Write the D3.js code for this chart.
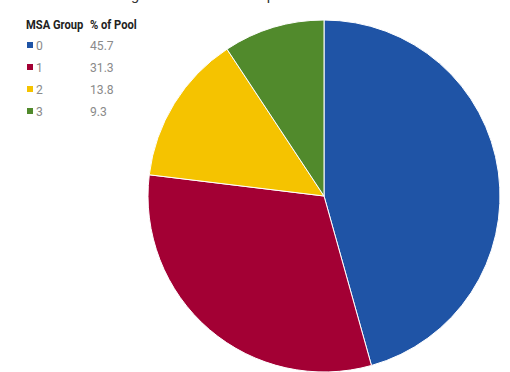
<!DOCTYPE html>
<html><head><meta charset="utf-8">
<script src="https://cdn.jsdelivr.net/npm/d3@7"></script>
<style>
html,body{margin:0;padding:0;background:#fff;}
svg{display:block;}
text{font-family:Roboto,"Liberation Sans",sans-serif;}
</style></head>
<body>
<svg id="c" width="510" height="372"></svg>
<script>
const groups = ["0","1","2","3"];
const values = [45.7, 31.3, 13.8, 9.3];
const valueLabels = ["45.7","31.3","13.8","9.3"];
const colors = ["#1f54a6","#a30034","#f5c300","#518a2c"];
const headers = ["MSA Group","% of Pool"];
const title = "Loan Percentage in Each MSA Group";

const svg = d3.select("#c");
const cx = 324, cy = 196, r = 176;

// title, mostly above the top edge as in the reference
const t = svg.append("text").attr("x", 0).attr("y", -0.5)
  .attr("font-size", 14).attr("fill","#333").text(title);
(function placeTitle(){
  const node = t.node();
  const gi = title.indexOf("g"), pi = title.lastIndexOf("p");
  let gx = node.getStartPositionOfChar(gi).x, px = node.getStartPositionOfChar(pi).x;
  const fs = 14 * 136 / (px - gx);
  t.attr("font-size", fs);
  gx = node.getStartPositionOfChar(gi).x;
  t.attr("x", 131 - gx);
})();

const pie = d3.pie().sort(null).value(d => d)(values);
const arc = d3.arc().innerRadius(0).outerRadius(r);
svg.append("g").attr("transform", `translate(${cx},${cy})`)
  .selectAll("path").data(pie).join("path")
  .attr("d", arc).attr("fill", (d,i) => colors[i])
  .attr("stroke","#fff").attr("stroke-width",1);

// legend
const sx = 0.9, fs = 13.5;
const lg = svg.append("g");
lg.append("text").attr("transform", `translate(26,29) scale(0.86,1)`).attr("font-size", 13)
  .attr("font-weight","bold").attr("fill","#222").text(headers[0]);
lg.append("text").attr("transform", `translate(90,29) scale(0.86,1)`).attr("font-size", 13)
  .attr("font-weight","bold").attr("fill","#222").text(headers[1]);
const y = d3.scaleBand().domain(groups).range([34, 122]);
const rows = lg.selectAll("g.row").data(groups).join("g").attr("class","row")
  .attr("transform", d => `translate(0,${y(d) + y.bandwidth()/2})`);
rows.append("rect").attr("x", 27).attr("y", -3).attr("width", 6).attr("height", 6)
  .attr("fill", (d,i) => colors[i]);
rows.append("text").attr("transform", `translate(36,5) scale(${sx},1)`).attr("font-size", fs)
  .attr("fill","#8a8a8a").text(d => d);
rows.append("text").attr("transform", `translate(90,5) scale(${sx},1)`).attr("font-size", fs)
  .attr("fill","#8a8a8a").text((d,i) => valueLabels[i]);
</script>
</body></html>
